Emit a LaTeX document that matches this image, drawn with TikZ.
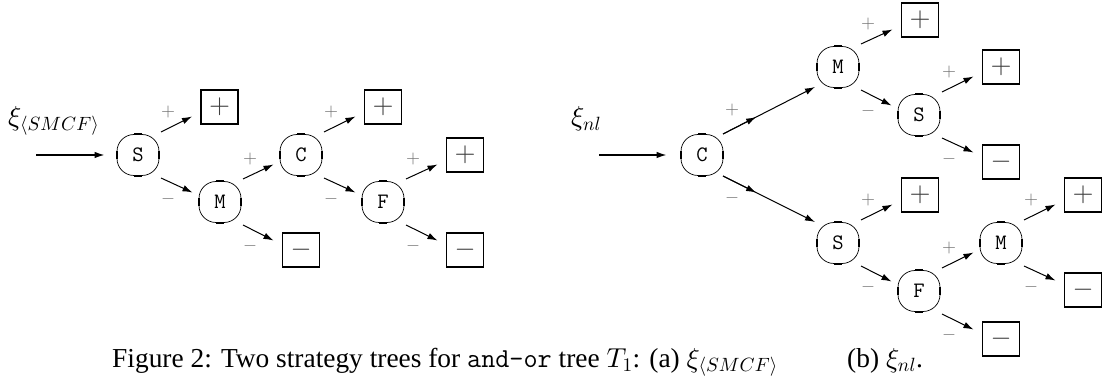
\documentclass[tikz,border=0pt]{standalone}
\usepackage[no-math]{fontspec}
\setmainfont{Liberation Serif}
\DeclareFontShape{OML}{cmm}{m}{it}{<->cmmi10}{}
\DeclareFontShape{OMS}{cmsy}{m}{n}{<->cmsy10}{}
\DeclareFontShape{OT1}{cmr}{m}{n}{<->cmr10}{}
\DeclareFontShape{OMX}{cmex}{m}{n}{<->cmex10}{}
\usetikzlibrary{arrows.meta,calc}
\newcommand{\UpEdge}[2]{%
  \draw[arr] ([shift={(23,-23)}]#1.center) -- ([shift={(-27.5,9.5)}]#2.center);
  \node[lab] (#1-p) at ([shift={(30,-43)}]#1.center) {$+$};}
\newcommand{\DnEdge}[2]{%
  \draw[arr] ([shift={(23,23)}]#1.center) -- ([shift={(-27.5,-9.5)}]#2.center);
  \node[lab] (#1-m) at ([shift={(30,44)}]#1.center) {$-$};}
\begin{document}
\begin{tikzpicture}[x=1pt,y=-1pt,
  inode/.style={draw, line width=0.7pt, rounded corners=17pt, minimum width=42pt, minimum height=41pt, inner sep=0pt, font=\fontsize{22}{22}\selectfont\ttfamily},
  leaf/.style={draw, line width=1.6pt, minimum width=37pt, minimum height=34pt, inner sep=0pt, text=black!75, font=\fontsize{27}{27}\selectfont},
  seg/.style={line width=1.8pt},
  arr/.style={line width=1pt, -{Latex[length=10pt,width=6.5pt]}},
  inarr/.style={line width=1.5pt, -{Latex[length=10pt,width=6.5pt]}},
  lab/.style={text=black!55, inner sep=0pt, font=\fontsize{18}{18}\selectfont},
  txt/.style={inner sep=0pt, font=\fontsize{27.4}{27.4}\selectfont},
]
\useasboundingbox (0,0) rectangle (1104,382);

% ---- left tree
\node[inode] (S) at (138,155) {S};
\node[leaf]  (Sp) at (219.5,107) {$+$};
\node[inode] (M) at (220,202) {M};
\node[inode] (C) at (301,155) {C};
\node[leaf]  (Mm) at (301,250) {$-$};
\node[leaf]  (Cp) at (383,107) {$+$};
\node[inode] (F) at (383,202) {F};
\node[leaf]  (Fp) at (465,155) {$+$};
\node[leaf]  (Fm) at (465,250) {$-$};

\UpEdge{S}{Sp}
\DnEdge{S}{M}
\UpEdge{M}{C}
\DnEdge{M}{Mm}
\UpEdge{C}{Cp}
\DnEdge{C}{F}
\UpEdge{F}{Fp}
\DnEdge{F}{Fm}

\coordinate (inL) at (36,155);
\draw[inarr, shorten >=12pt] (inL) -- (S.west);
\node[txt, anchor=base west] (xiL) at (8,126) {$\xi_{\langle SMCF\rangle}$};

% ---- right tree
\node[inode] (C2) at (702,155) {C};
\node[inode] (M2) at (838,67) {M};
\node[leaf]  (M2p) at (920,20) {$+$};
\node[inode] (S2) at (919,115) {S};
\node[leaf]  (S2p) at (1001,67) {$+$};
\node[leaf]  (S2m) at (1001,162) {$-$};
\node[inode] (S3) at (838,243) {S};
\node[leaf]  (S3p) at (920,195) {$+$};
\node[inode] (F2) at (919,291) {F};
\node[inode] (M3) at (1001,243) {M};
\node[leaf]  (M3p) at (1083,195) {$+$};
\node[leaf]  (M3m) at (1083,290) {$-$};
\node[leaf]  (F2m) at (1001,339) {$-$};

\draw[arr] ([shift={(21,-21)}]C2.center) -- ([shift={(-23,20)}]M2.center);
\draw[arr] ([shift={(21,-21)}]C2.center) -- ($([shift={(21,-21)}]C2.center)!0.36!([shift={(-23,20)}]M2.center)$);
\node[lab] (C2-p) at ([shift={(30,-45)}]C2.center) {$+$};
\draw[arr] ([shift={(21,21)}]C2.center) -- ([shift={(-23,-21)}]S3.center);
\draw[arr] ([shift={(21,21)}]C2.center) -- ($([shift={(21,21)}]C2.center)!0.36!([shift={(-23,-21)}]S3.center)$);
\node[lab] (C2-m) at ([shift={(30,43)}]C2.center) {$-$};

\UpEdge{M2}{M2p}
\DnEdge{M2}{S2}
\UpEdge{S2}{S2p}
\DnEdge{S2}{S2m}
\UpEdge{S3}{S3p}
\DnEdge{S3}{F2}
\UpEdge{F2}{M3}
\DnEdge{F2}{F2m}
\UpEdge{M3}{M3p}
\DnEdge{M3}{M3m}

\coordinate (inR) at (599,155);
\draw[inarr, shorten >=14pt] (inR) -- (C2.west);
\node[txt, anchor=base west] (xiR) at (571,126) {$\xi_{nl}$};

% thick straight parts of the ovals
\foreach \n in {S,M,C,F,C2,M2,S2,S3,F2,M3} {
  \draw[seg] ([xshift=-4pt]\n.north) -- ([xshift=4pt]\n.north);
  \draw[seg] ([xshift=-4pt]\n.south) -- ([xshift=4pt]\n.south);
  \draw[seg] ([yshift=-4pt]\n.west) -- ([yshift=4pt]\n.west);
  \draw[seg] ([yshift=-4pt]\n.east) -- ([yshift=4pt]\n.east);
}

% ---- caption
\node[txt, anchor=base west] (cap1) at (112,367) {Figure 2: Two strategy trees for \texttt{and-or} tree $T_1$: (a) $\xi_{\langle SMCF\rangle}$};
\node[txt, anchor=base west] (cap2) at (847,367) {(b) $\xi_{nl}$.};
\end{tikzpicture}
\end{document}
